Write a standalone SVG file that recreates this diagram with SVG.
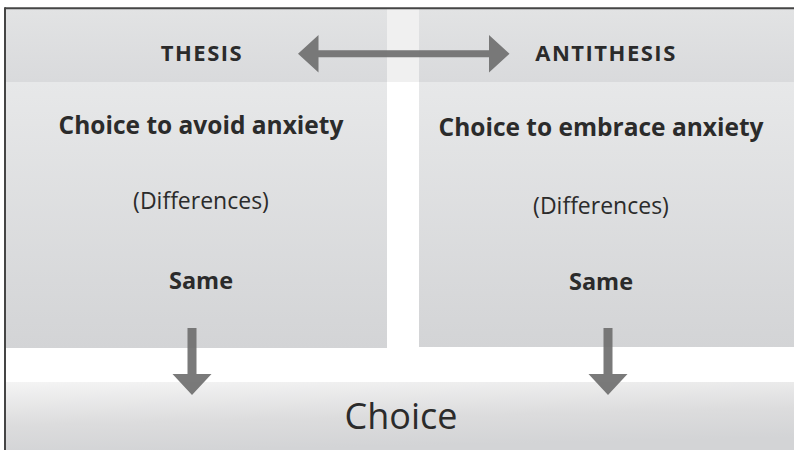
<svg xmlns="http://www.w3.org/2000/svg" width="794" height="450" viewBox="0 0 794 450">
  <defs>
    <linearGradient id="hdr" x1="0" y1="0" x2="0" y2="1">
      <stop offset="0" stop-color="#e2e3e4"/>
      <stop offset="1" stop-color="#d9dadc"/>
    </linearGradient>
    <linearGradient id="body" x1="0" y1="0" x2="0" y2="1">
      <stop offset="0" stop-color="#e7e8e9"/>
      <stop offset="1" stop-color="#d3d4d6"/>
    </linearGradient>
    <linearGradient id="band" x1="0" y1="0" x2="0.25" y2="1">
      <stop offset="0" stop-color="#f4f4f4"/>
      <stop offset="0.6" stop-color="#dcdcdd"/>
      <stop offset="1" stop-color="#d3d4d6"/>
    </linearGradient>
    <style>
      text { font-family: "Open Sans", "Liberation Sans", sans-serif; fill: #2b2b2b; text-anchor: middle; }
      .cap { font-size: 22px; font-weight: bold; letter-spacing: 1.5px; }
      .head { font-size: 24.5px; font-weight: bold; }
      .diff { font-size: 23px; }
      .same { font-size: 23.5px; font-weight: bold; }
      .big { font-size: 36px; }
      .arrow { fill: #6f6f6f; fill-opacity: 0.92; }
    </style>
  </defs>

  <rect x="0" y="0" width="794" height="450" fill="#ffffff"/>

  <!-- middle light band in header row -->
  <rect x="387" y="8" width="32" height="74" fill="#f0f0f0"/>

  <g id="thesis">
    <rect x="6" y="8" width="381" height="74" fill="url(#hdr)"/>
    <rect x="6" y="82" width="381" height="266" fill="url(#body)"/>
    <text class="cap" x="202" y="61">THESIS</text>
    <text class="head" x="201" y="134">Choice to avoid anxiety</text>
    <text class="diff" x="201" y="209">(Differences)</text>
    <text class="same" x="201" y="289">Same</text>
  </g>

  <g id="antithesis">
    <rect x="419" y="8" width="375" height="74" fill="url(#hdr)"/>
    <rect x="419" y="82" width="375" height="265" fill="url(#body)"/>
    <text class="cap" x="606" y="61">ANTITHESIS</text>
    <text class="head" x="601" y="136">Choice to embrace anxiety</text>
    <text class="diff" x="601" y="214">(Differences)</text>
    <text class="same" x="601" y="290">Same</text>
  </g>

  <g id="choice">
    <rect x="6" y="382" width="788" height="68" fill="url(#band)"/>
    <text class="big" x="401" y="429">Choice</text>
  </g>

  <!-- frame -->
  <line x1="5" y1="8.3" x2="794" y2="8.3" stroke="#454545" stroke-width="2"/>
  <line x1="5" y1="7.3" x2="5" y2="450" stroke="#454545" stroke-width="2"/>

  <g id="connectors">
    <polygon class="arrow" points="298,53.8 318.5,35 318.5,50.3 489,50.3 489,35 509.5,53.8 489,72.6 489,57.3 318.5,57.3 318.5,72.6"/>
    <polygon class="arrow" points="187.5,328 196.5,328 196.5,374 211.5,374 192,395 172.5,374 187.5,374"/>
    <polygon class="arrow" points="603.5,328 612.5,328 612.5,374 627.5,374 608,395 588.5,374 603.5,374"/>
  </g>
</svg>
